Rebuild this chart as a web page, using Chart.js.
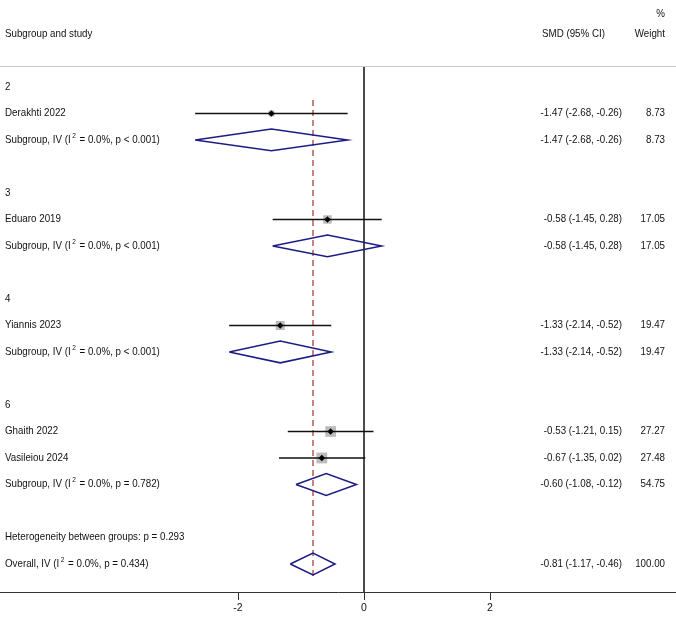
<!DOCTYPE html>
<html>
<head>
<meta charset="utf-8">
<title>Forest plot - SMD by subgroup</title>
<script src="https://cdn.jsdelivr.net/npm/chart.js@4.4.0/dist/chart.umd.min.js"></script>
<style>
  html, body { margin: 0; padding: 0; background: #fff; }
  #wrap { width: 676px; height: 620px; position: relative; }
</style>
</head>
<body>
<div id="wrap"><canvas id="forest"></canvas></div>
<script>
// studies
const studies = ['Derakhti 2022', 'Eduaro 2019', 'Yiannis 2023', 'Ghaith 2022', 'Vasileiou 2024'];
const studyEst = [-1.47, -0.58, -1.33, -0.53, -0.67];
const studyLo = [-2.68, -1.45, -2.14, -1.21, -1.35];
const studyHi = [-0.26, 0.28, -0.52, 0.15, 0.02];
const studyWeight = [8.73, 17.05, 19.47, 27.27, 27.48];
const studyRow = [1, 5, 9, 13, 14];

// subgroups
const groups = ['2', '3', '4', '6'];
const groupRow = [0, 4, 8, 12];
const subP = ['p < 0.001', 'p < 0.001', 'p < 0.001', 'p = 0.782'];
const subEst = [-1.47, -0.58, -1.33, -0.60];
const subLo = [-2.68, -1.45, -2.14, -1.08];
const subHi = [-0.26, 0.28, -0.52, -0.12];
const subWeight = [8.73, 17.05, 19.47, 54.75];
const subRow = [2, 6, 10, 15];

// overall
const overallEst = [-0.81];
const overallLo = [-1.17];
const overallHi = [-0.46];
const overallWeight = [100.00];
const overallP = ['p = 0.434'];
const overallRow = [18];
const hetP = ['p = 0.293'];
const hetRow = [17];

const xTicks = [-2, 0, 2];

// layout (row units / axis units)
const X_MIN = -5.778, X_MAX = 4.952;
const Y_MIN = -3.283, Y_MAX = 19.057;
const RULE_ROW = -0.79, HEAD_ROW = -2.0, PCT_ROW = -2.75;
const DIAMOND_H = 0.41;
const DASH_TOP = 0.49, DASH_BOTTOM = 18.49;

const NAVY = '#1c1c84';
const TXT = '#111';
const FAMILY = '"Liberation Sans", Arial, sans-serif';
const FONT = '10.5px ' + FAMILY;
const SX = 0.93; // narrow-ish text like the original

const fmt = v => v.toFixed(2);
const ciText = (e, l, h) => `${fmt(e)} (${fmt(l)}, ${fmt(h)})`;

function diamond(e, l, h, r) {
  return [{ x: l, y: r }, { x: e, y: r - DIAMOND_H }, { x: h, y: r }, { x: e, y: r + DIAMOND_H }, { x: l, y: r }];
}

const datasets = [];

// gray weight boxes (bottom)
datasets.push({
  type: 'scatter',
  data: studyEst.map((e, i) => ({ x: e, y: studyRow[i] })),
  pointStyle: 'rect',
  pointRadius: studyWeight.map(w => 2.05 * Math.sqrt(w) / Math.SQRT2),
  backgroundColor: '#bcbcbc',
  borderWidth: 0,
  order: 10
});

// CI lines
studies.forEach((s, i) => {
  datasets.push({
    type: 'line',
    data: [{ x: studyLo[i], y: studyRow[i] }, { x: studyHi[i], y: studyRow[i] }],
    borderColor: '#111',
    borderWidth: 1.5,
    pointRadius: 0,
    order: 5
  });
});

// point estimates
datasets.push({
  type: 'scatter',
  data: studyEst.map((e, i) => ({ x: e, y: studyRow[i] })),
  pointStyle: 'rectRot',
  pointRadius: 3.2,
  backgroundColor: '#000',
  borderWidth: 0,
  order: 1
});

// pooled diamonds
const pooled = subEst.map((e, i) => [e, subLo[i], subHi[i], subRow[i]])
  .concat([[overallEst[0], overallLo[0], overallHi[0], overallRow[0]]]);
pooled.forEach(p => {
  datasets.push({
    type: 'line',
    data: diamond(...p),
    borderColor: NAVY,
    borderWidth: 1.5,
    pointRadius: 0,
    fill: false,
    order: 4
  });
});

// overall effect dashed line
datasets.push({
  type: 'line',
  data: [{ x: overallEst[0], y: DASH_TOP }, { x: overallEst[0], y: DASH_BOTTOM }],
  borderColor: '#a8433f',
  borderWidth: 1.3,
  borderDash: [6, 4],
  pointRadius: 0,
  order: 8
});

// no-effect line
datasets.push({
  type: 'line',
  data: [{ x: 0, y: RULE_ROW }, { x: 0, y: Y_MAX }],
  borderColor: '#111',
  borderWidth: 1.5,
  pointRadius: 0,
  order: 6
});

// 텍스트 컬럼, 헤더
const textPlugin = {
  id: 'forestText',
  afterDraw(chart) {
    const { ctx } = chart;
    const ys = chart.scales.y;
    const py = r => ys.getPixelForValue(r);
    const W = chart.width;
    const labelX = 5, ciX = 622, wX = 665;

    ctx.save();
    // top rule
    ctx.strokeStyle = '#c8c8c8';
    ctx.lineWidth = 1;
    ctx.beginPath();
    ctx.moveTo(0, Math.round(py(RULE_ROW)) + 0.5);
    ctx.lineTo(W, Math.round(py(RULE_ROW)) + 0.5);
    ctx.stroke();

    ctx.font = FONT;
    ctx.fillStyle = TXT;
    ctx.textBaseline = 'middle';

    // condensed text helper
    const put = (t, x, y, align) => {
      ctx.save();
      ctx.translate(x, y);
      ctx.scale(SX, 1);
      ctx.textAlign = align;
      ctx.fillText(t, 0, 0);
      ctx.restore();
      return ctx.measureText(t).width * SX;
    };
    const left = (t, r) => put(t, labelX, py(r), 'left');
    const right = (t, x, r) => put(t, x, py(r), 'right');
    const isq = (head, tail, r) => {
      const y = py(r);
      let x = labelX + put(head, labelX, y, 'left') + 1.5;
      ctx.font = '7px ' + FAMILY;
      x += put('2', x, y - 4, 'left') + 1;
      ctx.font = FONT;
      put(tail, x, y, 'left');
    };

    // headers
    left('Subgroup and study', HEAD_ROW);
    put('SMD (95% CI)', 542, py(HEAD_ROW), 'left');
    right('Weight', wX, HEAD_ROW);
    right('%', wX, PCT_ROW);

    groups.forEach((g, i) => left(g, groupRow[i]));
    studies.forEach((s, i) => {
      left(s, studyRow[i]);
      right(ciText(studyEst[i], studyLo[i], studyHi[i]), ciX, studyRow[i]);
      right(fmt(studyWeight[i]), wX, studyRow[i]);
    });
    subRow.forEach((r, i) => {
      isq('Subgroup, IV (I', ` = 0.0%, ${subP[i]})`, r);
      right(ciText(subEst[i], subLo[i], subHi[i]), ciX, r);
      right(fmt(subWeight[i]), wX, r);
    });
    left(`Heterogeneity between groups: ${hetP[0]}`, hetRow[0]);
    isq('Overall, IV (I', ` = 0.0%, ${overallP[0]})`, overallRow[0]);
    right(ciText(overallEst[0], overallLo[0], overallHi[0]), ciX, overallRow[0]);
    right(fmt(overallWeight[0]), wX, overallRow[0]);
    ctx.restore();
  }
};

new Chart(document.getElementById('forest'), {
  data: { datasets },
  options: {
    responsive: true,
    maintainAspectRatio: false,
    animation: false,
    layout: { padding: 0, autoPadding: false },
    plugins: { legend: { display: false }, tooltip: { enabled: false } },
    scales: {
      x: {
        type: 'linear',
        min: X_MIN,
        max: X_MAX,
        afterBuildTicks: s => { s.ticks = xTicks.map(v => ({ value: v })); },
        afterFit: s => { s.height = 28; },
        grid: { drawOnChartArea: false, drawTicks: true, tickLength: 8, color: '#333', lineWidth: 1 },
        border: { display: true, color: '#333', width: 1 },
        ticks: { padding: 2, color: TXT, font: { family: FAMILY, size: 10.5 }, callback: v => String(v) }
      },
      y: { type: 'linear', min: Y_MIN, max: Y_MAX, reverse: true, display: false }
    }
  },
  plugins: [textPlugin]
});
</script>
</body>
</html>
